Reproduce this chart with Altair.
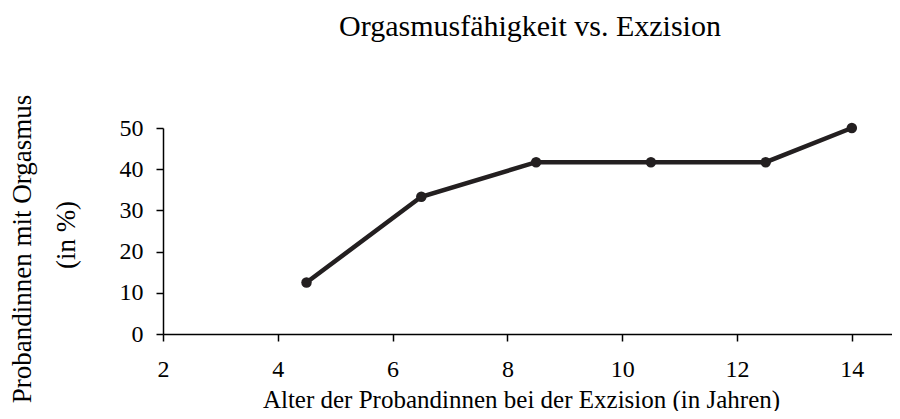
import altair as alt
import pandas as pd

# Data
ages = [4.5, 6.5, 8.5, 10.5, 12.5, 14]
orgasm_pct = [12.5, 33.3, 41.7, 41.7, 41.7, 50]
x_ticks = [2, 4, 6, 8, 10, 12, 14]
y_ticks = [0, 10, 20, 30, 40, 50]

title_text = "Orgasmusfähigkeit vs. Exzision"
x_title = "Alter der Probandinnen bei der Exzision (in Jahren)"
y_title_1 = "Probandinnen mit Orgasmus"
y_title_2 = "(in %)"

FONT = "Liberation Serif"
INK = "#231f20"

df = pd.DataFrame({"age": ages, "pct": orgasm_pct})

x_enc = alt.X(
    "age:Q",
    scale=alt.Scale(domain=[2, 14.7], nice=False, zero=False),
    axis=alt.Axis(
        values=x_ticks,
        title=x_title,
        titleX=358,
        titleY=73,
        titleAlign="center",
        titleBaseline="alphabetic",
        titleFont=FONT,
        titleFontSize=25,
        titleFontWeight="normal",
        titleColor="black",
        labelFont=FONT,
        labelFontSize=24,
        labelColor="black",
        labelPadding=16,
        tickSize=7,
        grid=False,
        labelFlush=False,
    ),
)
y_enc = alt.Y(
    "pct:Q",
    scale=alt.Scale(domain=[0, 50], nice=False),
    axis=alt.Axis(
        values=y_ticks,
        title=None,
        labelFont=FONT,
        labelFontSize=24,
        labelColor="black",
        labelPadding=13,
        tickSize=7,
        grid=False,
    ),
)

base = alt.Chart(df)
line = base.mark_line(color=INK, strokeWidth=4.5).encode(x=x_enc, y=y_enc)
pts = base.mark_point(filled=True, color=INK, size=110, opacity=1).encode(x=x_enc, y=y_enc)

title_mark = alt.Chart(pd.DataFrame({"t": [title_text]})).mark_text(
    font=FONT, fontSize=30, color="black", align="center", baseline="alphabetic"
).encode(text="t:N", x=alt.value(367), y=alt.value(-92))

yt1 = alt.Chart(pd.DataFrame({"t": [y_title_1]})).mark_text(
    angle=270, font=FONT, fontSize=27, color="black", align="center", baseline="middle"
).encode(text="t:N", x=alt.value(-140), y=alt.value(121))
yt2 = alt.Chart(pd.DataFrame({"t": [y_title_2]})).mark_text(
    angle=270, font=FONT, fontSize=27, color="black", align="center", baseline="middle"
).encode(text="t:N", x=alt.value(-96), y=alt.value(107))

chart = (
    alt.layer(line, pts, title_mark, yt1, yt2)
    .properties(
        width=729,
        height=206,
        autosize=alt.AutoSizeParams(type="none"),
        padding={"left": 155, "top": 120, "right": 0, "bottom": 77},
    )
    .configure_view(stroke=None)
    .configure_axis(domainColor="black", tickColor="black", domainWidth=1.5, tickWidth=1.5)
)

chart.save("out.html", embed_options={"renderer": "svg", "actions": False})
